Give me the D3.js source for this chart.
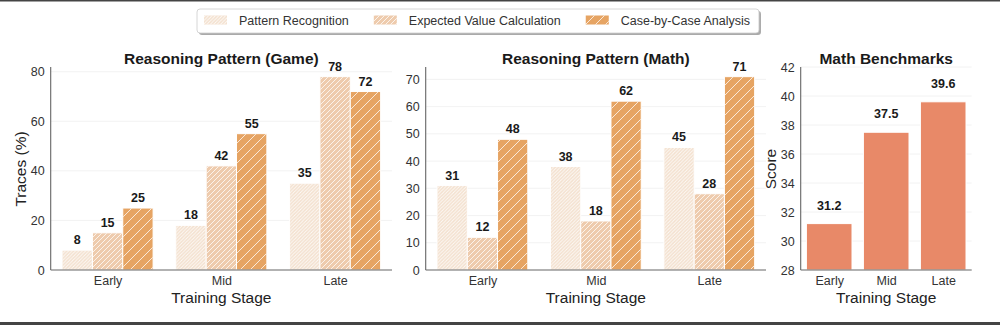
<!DOCTYPE html>
<html>
<head>
<meta charset="utf-8">
<script src="https://cdn.jsdelivr.net/npm/d3@7"></script>
<style>
  body { margin: 0; background: #fff; }
  svg { display: block; }
  text { font-family: "Liberation Sans", Arial, Helvetica, sans-serif; }
</style>
</head>
<body>
<svg id="chart" width="1000" height="325"></svg>
<script>
// ---- data ----
const stages = ["Early", "Mid", "Late"];
const seriesNames = ["Pattern Recognition", "Expected Value Calculation", "Case-by-Case Analysis"];

const gamePattern  = [8, 18, 35];
const gameExpected = [15, 42, 78];
const gameCase     = [25, 55, 72];

const mathPattern  = [31, 38, 45];
const mathExpected = [12, 18, 28];
const mathCase     = [48, 62, 71];

const benchScores  = [31.2, 37.5, 39.6];

const gameTicks  = [0, 20, 40, 60, 80];
const mathTicks  = [0, 10, 20, 30, 40, 50, 60, 70];
const benchTicks = [28, 30, 32, 34, 36, 38, 40, 42];

// ---- styles ----
const seriesColors = ["#F3E0CE", "#EECBAD", "#E6A463"];
const hatchSpacing = [3.4, 5, 10];   // "///", "//", "/"
const benchColor = "#E88968";
const spineColor = "#666";
const gridColor = "#efefef";

const svg = d3.select("#chart");
const defs = svg.append("defs");

// diagonal hatch patterns (white lines, north-east direction)
hatchSpacing.forEach((s, i) => {
  const p = defs.append("pattern")
    .attr("id", "hatch" + i)
    .attr("patternUnits", "userSpaceOnUse")
    .attr("width", s).attr("height", s);
  p.append("path")
    .attr("d", `M${-s / 2},${s / 2} L${s / 2},${-s / 2} M0,${s} L${s},0 M${s / 2},${s * 1.5} L${s * 1.5},${s / 2}`)
    .attr("stroke", "rgba(255,255,255,0.85)")
    .attr("stroke-width", 0.9)
    .attr("fill", "none");
});

// page frame lines
svg.append("rect").attr("x", 0).attr("y", 0).attr("width", 1000).attr("height", 1.5).attr("fill", "#444");
svg.append("rect").attr("x", 0).attr("y", 322).attr("width", 1000).attr("height", 3).attr("fill", "#444");

const baseY = 270, topY = 67;

function panel(opts) {
  const g = svg.append("g");
  const x = d3.scaleLinear().domain([-0.5, 2.5]).range([opts.x0, opts.x1]);
  const y = d3.scaleLinear().domain(opts.yDomain).range([baseY, topY]);
  const unit = x(1) - x(0);

  // grid
  g.append("g").selectAll("line").data(opts.ticks.slice(1)).join("line")
    .attr("x1", opts.x0).attr("x2", opts.x1)
    .attr("y1", d => y(d)).attr("y2", d => y(d))
    .attr("stroke", gridColor).attr("stroke-width", 0.8);

  // y axis
  const ya = g.append("g").attr("transform", `translate(${opts.x0},0)`)
    .call(d3.axisLeft(y).tickValues(opts.ticks).tickSize(0).tickPadding(6).tickSizeOuter(0));
  ya.select(".domain").remove();
  ya.selectAll("text").attr("font-size", 12.5).attr("fill", "#333")
    .attr("font-family", '"Liberation Sans", Arial, sans-serif');

  // x axis
  const xa = g.append("g").attr("transform", `translate(0,${baseY})`)
    .call(d3.axisBottom(x).tickValues([0, 1, 2]).tickFormat(i => stages[i]).tickSize(0).tickPadding(6).tickSizeOuter(0));
  xa.select(".domain").remove();
  xa.selectAll("text").attr("font-size", 12.5).attr("fill", "#333")
    .attr("font-family", '"Liberation Sans", Arial, sans-serif');

  // bars
  opts.drawBars(g, x, y, unit);

  // spines
  g.append("line").attr("x1", opts.x0).attr("x2", opts.x0).attr("y1", topY).attr("y2", baseY)
    .attr("stroke", spineColor).attr("stroke-width", 1.1);
  g.append("line").attr("x1", opts.x0).attr("x2", opts.x1).attr("y1", baseY).attr("y2", baseY)
    .attr("stroke", spineColor).attr("stroke-width", 1.1);

  // title
  g.append("text").attr("x", (opts.x0 + opts.x1) / 2).attr("y", 63.5)
    .attr("text-anchor", "middle").attr("font-size", 15.5).attr("font-weight", "bold")
    .attr("fill", "#1a1a1a").text(opts.title);

  // x label
  g.append("text").attr("x", (opts.x0 + opts.x1) / 2).attr("y", 303)
    .attr("text-anchor", "middle").attr("font-size", 15.5).attr("fill", "#222").text("Training Stage");

  // y label
  if (opts.yLabel) {
    g.append("text").attr("transform", `translate(${opts.yLabelX},169) rotate(-90)`)
      .attr("text-anchor", "middle").attr("dy", "0.36em").attr("font-size", 15.5).attr("fill", "#222")
      .text(opts.yLabel);
  }
}

function groupedBars(series) {
  return (g, x, y, unit) => {
    const w = 0.8 / 3;
    series.forEach((vals, si) => {
      const off = (si - 1) * w;
      const bars = g.append("g");
      const rows = vals.map((v, i) => ({ v, i }));
      bars.selectAll("rect.fill").data(rows).join("rect").attr("class", "fill")
        .attr("x", d => x(d.i + off - w / 2)).attr("width", w * unit)
        .attr("y", d => y(d.v)).attr("height", d => y(0) - y(d.v))
        .attr("fill", seriesColors[si]).attr("stroke", "#fff").attr("stroke-width", 1);
      bars.selectAll("rect.hatch").data(rows).join("rect").attr("class", "hatch")
        .attr("x", d => x(d.i + off - w / 2) + 0.5).attr("width", w * unit - 1)
        .attr("y", d => y(d.v) + 0.5).attr("height", d => y(0) - y(d.v) - 1)
        .attr("fill", `url(#hatch${si})`);
      bars.selectAll("text").data(rows).join("text")
        .attr("x", d => x(d.i + off)).attr("y", d => y(d.v) - 6)
        .attr("text-anchor", "middle").attr("font-size", 12.5).attr("font-weight", "bold")
        .attr("fill", "#1a1a1a").text(d => d.v);
    });
  };
}

panel({
  x0: 50.7, x1: 392, yDomain: [0, 81.9], ticks: gameTicks,
  title: "Reasoning Pattern (Game)", yLabel: "Traces (%)", yLabelX: 20,
  drawBars: groupedBars([gamePattern, gameExpected, gameCase])
});

panel({
  x0: 425.7, x1: 766, yDomain: [0, 74.55], ticks: mathTicks,
  title: "Reasoning Pattern (Math)",
  drawBars: groupedBars([mathPattern, mathExpected, mathCase])
});

panel({
  x0: 800.7, x1: 971.7, yDomain: [28, 42], ticks: benchTicks,
  title: "Math Benchmarks", yLabel: "Score", yLabelX: 770,
  drawBars: (g, x, y, unit) => {
    const w = 0.8;
    const rows = benchScores.map((v, i) => ({ v, i }));
    g.append("g").selectAll("rect").data(rows).join("rect")
      .attr("x", d => x(d.i - w / 2)).attr("width", w * unit)
      .attr("y", d => y(d.v)).attr("height", d => y(28) - y(d.v))
      .attr("fill", benchColor).attr("stroke", "#fff").attr("stroke-width", 1);
    g.append("g").selectAll("text").data(rows).join("text")
      .attr("x", d => x(d.i)).attr("y", d => y(d.v) - 14)
      .attr("text-anchor", "middle").attr("font-size", 12.5).attr("font-weight", "bold")
      .attr("fill", "#1a1a1a").text(d => d.v.toFixed(1));
  }
});

// ---- legend ----
const legend = svg.append("g");
const lgShadow = legend.append("rect");
const lgBox = legend.append("rect");
let cx = 204;
seriesNames.forEach((name, i) => {
  legend.append("rect").attr("x", cx).attr("y", 15.5).attr("width", 23).attr("height", 9)
    .attr("fill", seriesColors[i]);
  legend.append("rect").attr("x", cx).attr("y", 15.5).attr("width", 23).attr("height", 9)
    .attr("fill", `url(#hatch${i})`);
  const t = legend.append("text").attr("x", cx + 35).attr("y", 24.5)
    .attr("font-size", 12.5).attr("fill", "#333").text(name);
  const tw = t.node().getComputedTextLength();
  cx = cx + 35 + tw + 25;
});
const boxL = 197, boxR = cx - 25 + 9;
lgShadow.attr("x", boxL + 2).attr("y", 11).attr("width", boxR - boxL).attr("height", 24)
  .attr("rx", 3).attr("fill", "#aaa");
lgBox.attr("x", boxL).attr("y", 9).attr("width", boxR - boxL).attr("height", 24)
  .attr("rx", 3).attr("fill", "#fff").attr("stroke", "#ccc").attr("stroke-width", 0.8);
</script>
</body>
</html>
